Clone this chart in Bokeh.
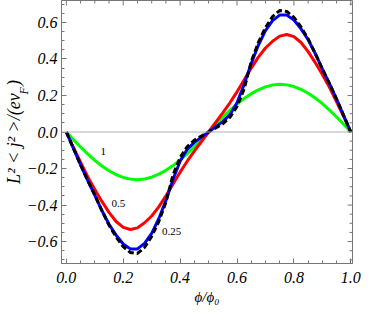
import math
from bokeh.plotting import figure
from bokeh.models import Range1d, Span, Label, CustomJSTickFormatter, FixedTicker
from bokeh.embed import file_html
from bokeh.resources import INLINE

phi = [i / 40 for i in range(41)]

black_lim = [0, -0.09, -0.18, -0.265, -0.345, -0.43, -0.51, -0.575, -0.628, -0.66, -0.665,
             -0.632, -0.572, -0.49, -0.385, -0.235, -0.14, -0.08, -0.045, -0.022, 0,
             0.022, 0.045, 0.08, 0.14, 0.235, 0.385, 0.49, 0.572, 0.632, 0.665,
             0.66, 0.628, 0.575, 0.51, 0.43, 0.345, 0.265, 0.18, 0.09, 0]
blue_025 = [0, -0.09, -0.18, -0.265, -0.345, -0.43, -0.505, -0.565, -0.613, -0.64, -0.64,
            -0.61, -0.555, -0.475, -0.375, -0.26, -0.16, -0.095, -0.057, -0.028, 0,
            0.028, 0.057, 0.095, 0.16, 0.26, 0.375, 0.475, 0.555, 0.61, 0.64,
            0.64, 0.613, 0.565, 0.505, 0.43, 0.345, 0.265, 0.18, 0.09, 0]
red_05 = [0, -0.085, -0.165, -0.245, -0.315, -0.38, -0.44, -0.49, -0.522, -0.534, -0.525,
          -0.497, -0.46, -0.41, -0.35, -0.285, -0.22, -0.16, -0.105, -0.052, 0,
          0.052, 0.105, 0.16, 0.22, 0.285, 0.35, 0.41, 0.46, 0.497, 0.525,
          0.534, 0.522, 0.49, 0.44, 0.38, 0.315, 0.245, 0.165, 0.085, 0]
green_1 = [0, -0.042, -0.082, -0.12, -0.155, -0.186, -0.212, -0.233, -0.249, -0.258, -0.261,
           -0.257, -0.247, -0.231, -0.21, -0.184, -0.153, -0.118, -0.081, -0.041, 0,
           0.041, 0.081, 0.118, 0.153, 0.184, 0.21, 0.231, 0.247, 0.257, 0.261,
           0.258, 0.249, 0.233, 0.212, 0.186, 0.155, 0.12, 0.082, 0.042, 0]

curve_labels = ["1", "0.5", "0.25"]
curve_label_x = [0.13, 0.183, 0.37]
curve_label_y = [-0.108, -0.392, -0.543]

x_ticks = [0.0, 0.2, 0.4, 0.6, 0.8, 1.0]
y_ticks = [-0.6, -0.4, -0.2, 0.0, 0.2, 0.4, 0.6]
x_minor = [round(0.05 * i, 2) for i in range(21) if i % 4]
y_minor = [round(-0.7 + 0.05 * i, 2) for i in range(29) if round(-0.7 + 0.05 * i, 2) not in y_ticks]

X0, X1 = -0.017, 1.006
Y0, Y1 = -0.72, 0.72
FONT = "Liberation Serif"
FRAME = "#777777"

p = figure(width=366, height=311, output_backend="svg", toolbar_location=None,
           x_range=Range1d(X0, X1), y_range=Range1d(Y0, Y1),
           min_border_left=54, min_border_right=0, min_border_top=0, min_border_bottom=48)
p.xgrid.visible = False
p.ygrid.visible = False
p.outline_line_color = FRAME
p.background_fill_color = "white"
p.border_fill_color = "white"

fmt = CustomJSTickFormatter(code="""
    var s = Math.abs(tick) < 1e-9 ? '0.0' : tick.toFixed(1);
    return s.replace('-', '\u2212');
""")

def style_axis(ax, ticks, minor):
    ax.ticker = FixedTicker(ticks=ticks, minor_ticks=minor)
    ax.formatter = fmt
    ax.axis_line_color = FRAME
    ax.major_tick_line_color = FRAME
    ax.minor_tick_line_color = FRAME
    ax.major_tick_in = 5
    ax.major_tick_out = 0
    ax.minor_tick_in = 3
    ax.minor_tick_out = 0
    ax.major_label_text_font = FONT
    ax.major_label_text_font_style = "italic"
    ax.major_label_text_font_size = "16px"
    ax.major_label_text_color = "black"
    ax.axis_label_text_font = FONT
    ax.axis_label_text_font_style = "italic"
    ax.axis_label_text_color = "black"

style_axis(p.xaxis[0], x_ticks, x_minor)
style_axis(p.yaxis[0], y_ticks, y_minor)
p.xaxis[0].major_label_standoff = 8
p.yaxis[0].major_label_standoff = 4
p.xaxis[0].axis_label = "\u03d5/\u03d5\u2080"
p.xaxis[0].axis_label_text_font_size = "15px"
p.xaxis[0].axis_label_standoff = 3

# y-axis label: main text on the axis, subscript F as a separate label
p.yaxis[0].axis_label = "L\u00b2 < j\u00b2 >/(ev\u2009\u2009)"
p.yaxis[0].axis_label_text_font_size = "18px"
p.yaxis[0].axis_label_standoff = 0

# inward ticks on the top and right frame edges
dx_major, dx_minor = 0.0172, 0.0103
dy_major, dy_minor = 0.0274, 0.0164
p.segment(x0=x_ticks, y0=[Y1] * len(x_ticks), x1=x_ticks, y1=[Y1 - dy_major] * len(x_ticks),
          line_color=FRAME, line_width=1)
p.segment(x0=x_minor, y0=[Y1] * len(x_minor), x1=x_minor, y1=[Y1 - dy_minor] * len(x_minor),
          line_color=FRAME, line_width=1)
p.segment(x0=[X1] * len(y_ticks), y0=y_ticks, x1=[X1 - dx_major] * len(y_ticks), y1=y_ticks,
          line_color=FRAME, line_width=1)
p.segment(x0=[X1] * len(y_minor), y0=y_minor, x1=[X1 - dx_minor] * len(y_minor), y1=y_minor,
          line_color=FRAME, line_width=1)

p.add_layout(Span(location=0, dimension="width", line_color="#b0b0b0", line_width=1))

p.line(phi, green_1, line_color="#00ff00", line_width=3)
p.line(phi, red_05, line_color="#ff0000", line_width=3)
p.line(phi, blue_025, line_color="#0000ff", line_width=3)
p.line(phi, black_lim, line_color="black", line_width=3, line_dash="6 3")

for t, lx, ly in zip(curve_labels, curve_label_x, curve_label_y):
    p.add_layout(Label(x=lx, y=ly, text=t, text_font=FONT, text_font_size="11px",
                       text_align="center", text_baseline="middle", text_color="black"))

sub_f = Label(x=-0.148, y=0.226, text="F", angle=math.pi / 2,
              text_font=FONT, text_font_style="italic", text_font_size="12px",
              text_align="center", text_baseline="middle", text_color="black")
p.add_layout(sub_f, "right")

open("out.html", "w").write(file_html(p, INLINE))
